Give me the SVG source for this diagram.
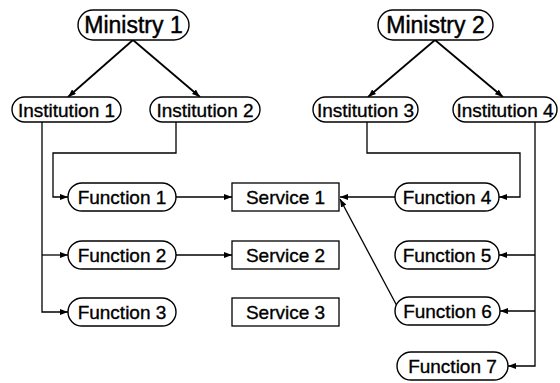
<svg xmlns="http://www.w3.org/2000/svg" width="560" height="383" viewBox="0 0 560 383">
<defs>
<marker id="ah" markerWidth="8" markerHeight="6" refX="8" refY="3" orient="auto" markerUnits="userSpaceOnUse">
<path d="M0,0 L8,3 L0,6 Z" fill="#000"/>
</marker>
<style>
.pill{fill:#fff;stroke:#000;stroke-width:1.4}
.box{fill:#fff;stroke:#000;stroke-width:1.3}
.t{font-family:"Liberation Sans",Arial,sans-serif;font-size:19px;fill:#000;stroke:#000;stroke-width:0.35;text-anchor:middle}
.tm{font-family:"Liberation Sans",Arial,sans-serif;font-size:23px;fill:#000;stroke:#000;stroke-width:0.45;text-anchor:middle}
.ca{fill:none;stroke:#000;stroke-width:1.3;marker-end:url(#ah)}
.cb{fill:none;stroke:#000;stroke-width:1.8;marker-end:url(#ah)}
</style>
</defs>
<rect width="560" height="383" fill="#fff"/>
<g id="connectors">
<path class="cb" d="M133,40 L68,97"/>
<path class="cb" d="M133,40 L200,97"/>
<path class="cb" d="M435,40 L368,97"/>
<path class="cb" d="M435,40 L503,97"/>
<path class="ca" d="M42,122 V312 H68"/>
<path class="ca" d="M42,255 H68"/>
<path class="ca" d="M176,122 V153 H53 V197 H68"/>
<path class="ca" d="M367,122 V153 H520 V197 H499"/>
<path class="ca" d="M535,122 V366 H508"/>
<path class="ca" d="M535,255 H499"/>
<path class="ca" d="M535,311 H500"/>
<path class="ca" d="M176,197 H232"/>
<path class="ca" d="M176,255 H232"/>
<path class="ca" d="M395,197 H340"/>
<path class="ca" d="M397,306 L340,199"/>
</g>
<g id="ministry1"><rect class="pill" x="78" y="10" width="111" height="30" rx="15"/><text class="tm" x="133.5" y="33">Ministry 1</text></g>
<g id="ministry2"><rect class="pill" x="378" y="10" width="115" height="30" rx="15"/><text class="tm" x="435.5" y="33">Ministry 2</text></g>
<g id="institution1"><rect class="pill" x="12" y="97" width="109" height="25" rx="12.5"/><text class="t" x="66.5" y="116.5">Institution 1</text></g>
<g id="institution2"><rect class="pill" x="150" y="97" width="110" height="25" rx="12.5"/><text class="t" x="205" y="116.5">Institution 2</text></g>
<g id="institution3"><rect class="pill" x="313" y="97" width="105" height="25" rx="12.5"/><text class="t" x="365.5" y="116.5">Institution 3</text></g>
<g id="institution4"><rect class="pill" x="453" y="97" width="104" height="25" rx="12.5"/><text class="t" x="505" y="116.5">Institution 4</text></g>
<g id="function1"><rect class="pill" x="68" y="183" width="108" height="28" rx="14"/><text class="t" x="122" y="203.8">Function 1</text></g>
<g id="function2"><rect class="pill" x="68" y="241" width="108" height="28" rx="14"/><text class="t" x="122" y="261.8">Function 2</text></g>
<g id="function3"><rect class="pill" x="68" y="298" width="108" height="28" rx="14"/><text class="t" x="122" y="318.8">Function 3</text></g>
<g id="service1"><rect class="box" x="232" y="183" width="107" height="28"/><text class="t" x="285.5" y="203.8">Service 1</text></g>
<g id="service2"><rect class="box" x="232" y="241" width="107" height="28"/><text class="t" x="285.5" y="261.8">Service 2</text></g>
<g id="service3"><rect class="box" x="232" y="298" width="107" height="28"/><text class="t" x="285.5" y="318.8">Service 3</text></g>
<g id="function4"><rect class="pill" x="395" y="183" width="104" height="28" rx="14"/><text class="t" x="447" y="203.8">Function 4</text></g>
<g id="function5"><rect class="pill" x="395" y="241" width="104" height="28" rx="14"/><text class="t" x="447" y="261.8">Function 5</text></g>
<g id="function6"><rect class="pill" x="395" y="297" width="105" height="28" rx="14"/><text class="t" x="447.5" y="317.8">Function 6</text></g>
<g id="function7"><rect class="pill" x="397" y="352" width="111" height="28" rx="14"/><text class="t" x="452.5" y="372.8">Function 7</text></g>
</svg>
